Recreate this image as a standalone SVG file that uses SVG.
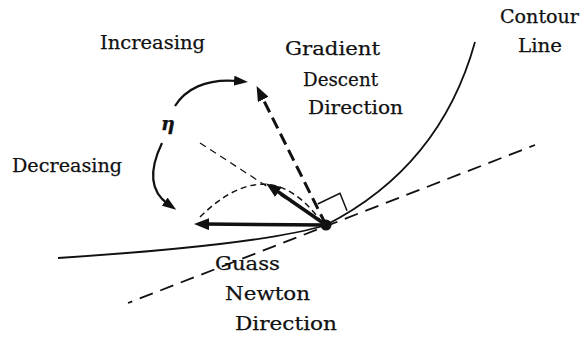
<svg xmlns="http://www.w3.org/2000/svg" width="580" height="339" viewBox="0 0 580 339">
<style>
  text { font-family: "DejaVu Serif", "Liberation Serif", serif; font-size: 19px; fill: #111; stroke: #111; stroke-width: 0.25; }
  .eta { font-style: italic; font-weight: bold; font-size: 19px; }
  .curve { fill: none; stroke: #111; stroke-width: 1.8; }
  .tangent { fill: none; stroke: #111; stroke-width: 1.8; stroke-dasharray: 14 8; stroke-dashoffset: 8; }
  .grad { fill: none; stroke: #111; stroke-width: 3; stroke-dasharray: 12 6; }
  .thin { fill: none; stroke: #111; stroke-width: 1.2; stroke-dasharray: 7 5; }
  .arc { fill: none; stroke: #111; stroke-width: 1.5; stroke-dasharray: 6 4; }
  .bold { fill: none; stroke: #111; stroke-width: 3.5; }
  .bend { fill: none; stroke: #111; stroke-width: 2.2; }
  .sq { fill: none; stroke: #111; stroke-width: 1.5; }
</style>
<defs>
  <marker id="ah" markerUnits="userSpaceOnUse" markerWidth="16" markerHeight="12" refX="4" refY="6" orient="auto">
    <path d="M0,0 L15,6 L0,12 z" fill="#111"/>
  </marker>
  <marker id="ahs" markerUnits="userSpaceOnUse" markerWidth="14" markerHeight="10" refX="4" refY="5" orient="auto">
    <path d="M0,0 L14,5 L0,10 z" fill="#111"/>
  </marker>
</defs>

<g id="contour-line">
  <path class="curve" d="M58,258 C150,252 275,241 326,225 C375,200 445,150 475,42"/>
</g>

<g id="connectors">
  <path class="tangent" d="M535,145 L128,303"/>
  <path class="thin" d="M200,143 L322,222"/>
  <path class="arc" d="M200,217 Q268,150 320,220"/>
  <path class="grad" d="M326,225 L261.5,95.9" marker-end="url(#ah)"/>
  <path class="bold" d="M326,225 L275.2,189.7" marker-end="url(#ah)"/>
  <path class="bold" d="M326,225 L205,224.1" marker-end="url(#ah)"/>
  <path class="sq" d="M317.7,204 L340,193.3 L347,210.7"/>
  <path class="bend" d="M175,106 C185,90 205,78 238,81" marker-end="url(#ahs)"/>
  <path class="bend" d="M162,143 C150,168 148,190 168,204" marker-end="url(#ahs)"/>
</g>

<g id="point">
  <circle cx="326" cy="225" r="5.5" fill="#111"/>
</g>

<g id="label-increasing"><text x="100" y="49" textLength="105" lengthAdjust="spacingAndGlyphs">Increasing</text></g>
<g id="label-decreasing"><text x="12" y="172" textLength="110" lengthAdjust="spacingAndGlyphs">Decreasing</text></g>
<g id="label-eta"><text class="eta" x="161" y="130">η</text></g>
<g id="label-gradient">
  <text x="285" y="55" textLength="95" lengthAdjust="spacingAndGlyphs">Gradient</text>
  <text x="303" y="86" textLength="75" lengthAdjust="spacingAndGlyphs">Descent</text>
  <text x="308" y="114" textLength="95" lengthAdjust="spacingAndGlyphs">Direction</text>
</g>
<g id="label-contour">
  <text x="500" y="23" textLength="79" lengthAdjust="spacingAndGlyphs">Contour</text>
  <text x="518" y="52" textLength="44" lengthAdjust="spacingAndGlyphs">Line</text>
</g>
<g id="label-gauss">
  <text x="215" y="270" textLength="65" lengthAdjust="spacingAndGlyphs">Guass</text>
  <text x="225" y="300" textLength="85" lengthAdjust="spacingAndGlyphs">Newton</text>
  <text x="235" y="330" textLength="102" lengthAdjust="spacingAndGlyphs">Direction</text>
</g>
</svg>
